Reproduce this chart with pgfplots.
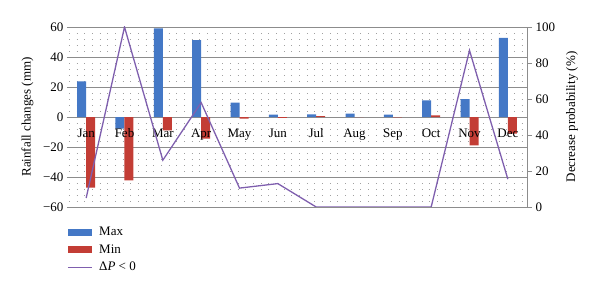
\documentclass[border=0pt]{standalone}
\usepackage{pgfplots}
\pgfplotsset{compat=1.18}
\usepackage{fontspec}
\setmainfont{Liberation Serif}
\definecolor{cmax}{HTML}{4478C6}
\definecolor{cmin}{HTML}{C33D35}
\definecolor{cline}{HTML}{7F5FAE}
\definecolor{gridc}{HTML}{8C8C8C}
\definecolor{dotc}{HTML}{A0A0A0}
\begin{document}
\begin{tikzpicture}
\useasboundingbox (-67pt,-85pt) rectangle (533pt,207pt);
\begin{axis}[
  width=460pt, height=180pt, scale only axis,
  xmin=-0.5, xmax=11.5, ymin=-60, ymax=60,
  axis x line*=middle, axis y line*=left,
  y axis line style={draw=none},
  x axis line style={gridc, line width=0.8pt},
  xtick={0,...,11},
  xticklabels={},
  ytick={-60,-40,...,60},
  yticklabels={−60,−40,−20,0,20,40,60},
  major tick length=0pt, minor tick length=0pt,
  minor y tick num=4,
  ymajorgrids, yminorgrids,
  major y grid style={gridc, line width=0.6pt},
  minor grid style={dotc, line width=0.9pt, dash pattern=on 0.9pt off 6.77pt, dash phase=-2pt},
  tick label style={font=\fontsize{13}{15}\selectfont},
  ylabel={Rainfall changes (mm)},
  ylabel style={font=\fontsize{13}{15}\selectfont, at={(axis description cs:-0.0859,0.5)}, anchor=center},
  ybar=0pt, bar width=9pt,
  legend style={at={(axis description cs:0,0)}, anchor=north west, yshift=-16.5pt,
    draw=none, fill=none, inner sep=0pt, font=\fontsize{13}{15}\selectfont,
    nodes={inner sep=3.7pt}, /tikz/every odd column/.append style={column sep=3pt}},
  legend cell align=left,
]
\addplot[fill=cmax, draw=none, legend image code/.code={\fill[cmax] (0pt,-3.5pt) rectangle (24pt,3.5pt);}]
  coordinates {(0,23.8) (1,-7.8) (2,59.1) (3,51.3) (4,9.6) (5,1.6) (6,1.8) (7,2.2) (8,1.6) (9,11.1) (10,12) (11,52.7)};
\addlegendentry{Max}
\addplot[fill=cmin, draw=none, legend image code/.code={\fill[cmin] (0pt,-3.5pt) rectangle (24pt,3.5pt);}]
  coordinates {(0,-47.1) (1,-42.2) (2,-8.9) (3,-14.4) (4,-1.1) (5,-0.5) (6,0.6) (7,0) (8,-0.3) (9,1.1) (10,-18.9) (11,-11.1)};
\addlegendentry{Min}
\addlegendimage{cline, line width=1.3pt, legend image code/.code={\draw[cline, line width=1.3pt] (0pt,0pt) -- (24pt,0pt);}}
\addlegendentry{Δ\textit{P} < 0}
\end{axis}
% tick labels of the months, drawn above the bars
\begin{axis}[
  width=460pt, height=180pt, scale only axis,
  xmin=-0.5, xmax=11.5, ymin=-60, ymax=60,
  axis x line*=middle, axis y line=none,
  x axis line style={draw=none},
  xtick={0,...,11},
  xticklabels={Jan,Feb,Mar,Apr,May,Jun,Jul,Aug,Sep,Oct,Nov,Dec},
  major tick length=0pt,
  tick label style={font=\fontsize{13}{15}\selectfont},
  xticklabel style={yshift=-8pt},
]
\addplot[draw=none] coordinates {(0,0)};
\end{axis}
\begin{axis}[
  width=460pt, height=180pt, scale only axis,
  xmin=-0.5, xmax=11.5, ymin=0, ymax=100,
  axis x line=none, axis y line*=right,
  y axis line style={gridc, line width=0.8pt},
  ytick={0,20,...,100},
  tick align=outside, major tick length=5pt,
  ytick style={gridc, line width=0.8pt},
  /pgf/number format/assume math mode=true,
  tick label style={font=\fontsize{13}{15}\selectfont},
  ylabel={Decrease probability (\%)},
  ylabel style={font=\fontsize{13}{15}\selectfont, at={(axis description cs:1.0978,0.5)}, anchor=center},
]
\addplot[cline, line width=1.3pt] coordinates {(0,5) (1,100) (2,26) (3,58) (4,10.5) (5,13) (6,0) (7,0) (8,0) (9,0) (10,87) (11,15.5)};
\end{axis}
\end{tikzpicture}
\end{document}
